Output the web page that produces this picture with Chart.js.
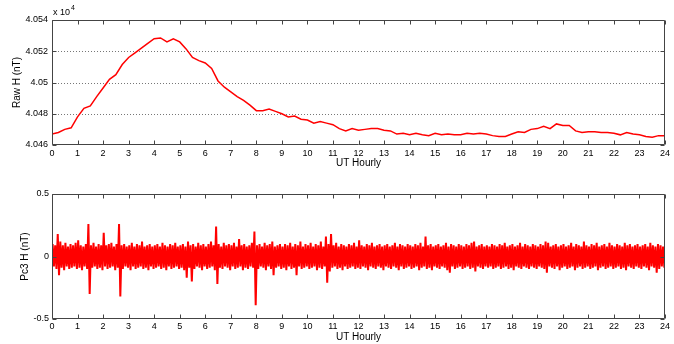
<!DOCTYPE html>
<html>
<head>
<meta charset="utf-8">
<script src="https://cdn.jsdelivr.net/npm/chart.js@4"></script>
<style>
  html, body { margin: 0; padding: 0; background: #fff; }
  #wrap { position: relative; width: 674px; height: 344px; }
  canvas { position: absolute; left: 0; }
  #rawCanvas { top: 0; }
  #pc3Canvas { top: 172px; }
</style>
</head>
<body>
<div id="wrap">
  <canvas id="rawCanvas" width="674" height="172" style="width:674px;height:172px"></canvas>
  <canvas id="pc3Canvas" width="674" height="172" style="width:674px;height:172px"></canvas>
</div>
<script>
// Raw H-component, sampled every quarter hour (nT)
const rawStepHours = 0.25;
const rawH = [
  40467, 40468, 40470, 40471,
  40478, 40483.5, 40485, 40491,
  40496.5, 40502, 40505, 40511.5,
  40516, 40519, 40522, 40525,
  40528, 40528.5, 40526, 40528,
  40526, 40521.5, 40516, 40514,
  40512.5, 40509, 40501, 40497,
  40494, 40491, 40488.5, 40485.5,
  40482, 40482, 40483, 40481.5,
  40480, 40478, 40478.5, 40476.5,
  40476, 40474, 40475, 40474,
  40473, 40470.5, 40469, 40470.5,
  40469.5, 40470, 40470.5, 40470.5,
  40469.5, 40469, 40467, 40467.5,
  40466.5, 40467.5, 40466.5, 40466,
  40467.5, 40466.5, 40467, 40466.5,
  40466.5, 40467.5, 40467, 40467.5,
  40467, 40466, 40465.5, 40465.5,
  40467, 40468.5, 40468, 40470,
  40470.5, 40472, 40470.5, 40473.5,
  40472.5, 40472.5, 40469, 40468,
  40468.5, 40468.5, 40468, 40468,
  40467.5, 40466.5, 40468, 40467,
  40466.5, 40465.5, 40465, 40466,
  40466
];

// Pc3-filtered H: per 6-minute bin, the highest and lowest excursion (nT)
const pc3BinHours = 0.1;
const pc3Max = [
  0.10, 0.09, 0.18, 0.12, 0.09, 0.11, 0.08, 0.10, 0.09, 0.11,
  0.13, 0.09, 0.08, 0.10, 0.26, 0.09, 0.11, 0.08, 0.10, 0.09,
  0.19, 0.09, 0.10, 0.11, 0.08, 0.10, 0.26, 0.09, 0.10, 0.08,
  0.09, 0.11, 0.08, 0.10, 0.09, 0.12, 0.08, 0.09, 0.10, 0.08,
  0.09, 0.10, 0.08, 0.11, 0.09, 0.08, 0.10, 0.09, 0.11, 0.08,
  0.09, 0.10, 0.08, 0.12, 0.09, 0.10, 0.08, 0.11, 0.09, 0.10,
  0.08, 0.10, 0.12, 0.09, 0.24, 0.10, 0.08, 0.11, 0.09, 0.10,
  0.09, 0.11, 0.08, 0.14, 0.09, 0.10, 0.08, 0.09, 0.11, 0.20,
  0.09, 0.10, 0.08, 0.11, 0.09, 0.10, 0.12, 0.08, 0.09, 0.10,
  0.08, 0.10, 0.09, 0.11, 0.08, 0.10, 0.09, 0.12, 0.08, 0.10,
  0.09, 0.11, 0.08, 0.10, 0.09, 0.12, 0.08, 0.16, 0.10, 0.18,
  0.09, 0.11, 0.08, 0.10, 0.09, 0.08, 0.10, 0.09, 0.11, 0.08,
  0.13, 0.09, 0.08, 0.10, 0.09, 0.11, 0.08, 0.09, 0.10, 0.08,
  0.09, 0.10, 0.08, 0.09, 0.11, 0.08, 0.10, 0.09, 0.08, 0.10,
  0.09, 0.08, 0.10, 0.09, 0.11, 0.08, 0.16, 0.09, 0.10, 0.08,
  0.09, 0.10, 0.08, 0.09, 0.11, 0.08, 0.10, 0.09, 0.08, 0.10,
  0.09, 0.08, 0.10, 0.09, 0.11, 0.12, 0.08, 0.09, 0.10, 0.08,
  0.09, 0.08, 0.10, 0.09, 0.08, 0.10, 0.09, 0.11, 0.08, 0.09,
  0.10, 0.08, 0.09, 0.11, 0.08, 0.10, 0.09, 0.08, 0.10, 0.09,
  0.08, 0.10, 0.09, 0.12, 0.11, 0.08, 0.09, 0.10, 0.08, 0.09,
  0.10, 0.08, 0.09, 0.11, 0.08, 0.10, 0.09, 0.08, 0.12, 0.09,
  0.08, 0.10, 0.09, 0.11, 0.08, 0.09, 0.10, 0.08, 0.11, 0.09,
  0.08, 0.10, 0.09, 0.08, 0.11, 0.09, 0.10, 0.08, 0.09, 0.10,
  0.08, 0.09, 0.10, 0.08, 0.11, 0.09, 0.08, 0.10, 0.09, 0.08
];
const pc3Min = [
  -0.08, -0.10, -0.15, -0.09, -0.11, -0.08, -0.10, -0.09, -0.08, -0.10,
  -0.09, -0.11, -0.08, -0.10, -0.30, -0.09, -0.08, -0.10, -0.09, -0.11,
  -0.08, -0.10, -0.09, -0.08, -0.11, -0.09, -0.32, -0.10, -0.08, -0.09,
  -0.11, -0.08, -0.10, -0.09, -0.08, -0.10, -0.09, -0.11, -0.08, -0.10,
  -0.09, -0.08, -0.10, -0.09, -0.11, -0.08, -0.10, -0.09, -0.08, -0.10,
  -0.09, -0.11, -0.17, -0.09, -0.20, -0.10, -0.08, -0.09, -0.11, -0.08,
  -0.10, -0.09, -0.08, -0.11, -0.22, -0.09, -0.10, -0.08, -0.09, -0.11,
  -0.08, -0.10, -0.09, -0.08, -0.11, -0.09, -0.10, -0.08, -0.09, -0.39,
  -0.10, -0.08, -0.09, -0.11, -0.08, -0.10, -0.15, -0.09, -0.08, -0.10,
  -0.09, -0.11, -0.08, -0.10, -0.09, -0.15, -0.08, -0.10, -0.09, -0.08,
  -0.10, -0.09, -0.08, -0.11, -0.09, -0.10, -0.08, -0.21, -0.12, -0.09,
  -0.08, -0.10, -0.09, -0.11, -0.08, -0.10, -0.09, -0.08, -0.10, -0.09,
  -0.10, -0.08, -0.09, -0.11, -0.08, -0.09, -0.10, -0.08, -0.09, -0.11,
  -0.08, -0.09, -0.10, -0.08, -0.09, -0.11, -0.08, -0.10, -0.09, -0.08,
  -0.10, -0.09, -0.08, -0.11, -0.09, -0.08, -0.10, -0.09, -0.11, -0.08,
  -0.09, -0.10, -0.08, -0.09, -0.11, -0.13, -0.08, -0.10, -0.09, -0.08,
  -0.10, -0.09, -0.08, -0.10, -0.09, -0.12, -0.08, -0.09, -0.10, -0.08,
  -0.09, -0.08, -0.10, -0.09, -0.08, -0.10, -0.09, -0.08, -0.10, -0.09,
  -0.11, -0.08, -0.09, -0.10, -0.08, -0.09, -0.10, -0.08, -0.09, -0.10,
  -0.08, -0.09, -0.10, -0.13, -0.08, -0.09, -0.10, -0.08, -0.11, -0.09,
  -0.08, -0.10, -0.09, -0.08, -0.11, -0.09, -0.08, -0.10, -0.09, -0.08,
  -0.10, -0.09, -0.08, -0.11, -0.09, -0.08, -0.10, -0.09, -0.08, -0.10,
  -0.09, -0.08, -0.10, -0.09, -0.11, -0.08, -0.09, -0.10, -0.08, -0.09,
  -0.10, -0.08, -0.09, -0.11, -0.08, -0.09, -0.13, -0.10, -0.08, -0.09
];

// Axis ranges and tick spacing
const hourRange = [0, 24];
const hourStep = 1;
const rawRange = [40460, 40540];
const rawStep = 20;
const pc3Range = [-0.5, 0.5];
const pc3Step = 0.5;

const rawPoints = rawH.map((v, i) => ({ x: i * rawStepHours, y: v }));
const pc3Points = [];
pc3Max.forEach((hi, i) => {
  pc3Points.push({ x: (i + 0.25) * pc3BinHours, y: hi });
  pc3Points.push({ x: (i + 0.75) * pc3BinHours, y: pc3Min[i] });
});

Chart.defaults.font.family = '"Liberation Sans", Arial, Helvetica, sans-serif';
Chart.defaults.font.size = 10;
Chart.defaults.color = '#000';

const tickFont = { size: 9 };

// Boxed axes with inward tick marks and optional dotted grid
const boxFrame = {
  id: 'boxFrame',
  beforeDatasetsDraw(chart, args, opts) {
    if (!opts.dottedGrid) return;
    const { ctx, chartArea: a, scales: { y } } = chart;
    ctx.save();
    ctx.strokeStyle = '#777';
    ctx.lineWidth = 1;
    ctx.setLineDash([1, 2]);
    ctx.beginPath();
    y.ticks.forEach(t => {
      if (t.value <= y.min || t.value >= y.max) return;
      const py = Math.round(y.getPixelForValue(t.value)) + 0.5;
      ctx.moveTo(a.left, py);
      ctx.lineTo(a.right, py);
    });
    ctx.stroke();
    ctx.restore();
  },
  afterDatasetsDraw(chart, args, opts) {
    const { ctx, chartArea: a, scales: { x, y } } = chart;
    const L = Math.round(a.left) + 0.5, R = Math.round(a.right) - 0.5;
    const T = Math.round(a.top) + 0.5, B = Math.round(a.bottom) - 0.5;
    const len = 4;
    ctx.save();
    ctx.strokeStyle = '#444';
    ctx.lineWidth = 1;
    ctx.beginPath();
    x.ticks.forEach(t => {
      const px = Math.round(x.getPixelForValue(t.value)) + 0.5;
      ctx.moveTo(px, B); ctx.lineTo(px, B - len);
      ctx.moveTo(px, T); ctx.lineTo(px, T + len);
    });
    y.ticks.forEach(t => {
      const py = Math.round(y.getPixelForValue(t.value)) + 0.5;
      ctx.moveTo(L, py); ctx.lineTo(L + len, py);
      ctx.moveTo(R, py); ctx.lineTo(R - len, py);
    });
    ctx.rect(L, T, R - L, B - T);
    ctx.stroke();
    if (opts.exponent) {
      ctx.fillStyle = '#000';
      ctx.textBaseline = 'alphabetic';
      ctx.textAlign = 'left';
      ctx.font = '9px "Liberation Sans", Arial, sans-serif';
      const base = 'x 10';
      ctx.fillText(base, a.left + 1, a.top - 5);
      const w = ctx.measureText(base).width;
      ctx.font = '7px "Liberation Sans", Arial, sans-serif';
      ctx.fillText(opts.exponent, a.left + 1 + w + 1, a.top - 10);
    }
    ctx.restore();
  }
};

function hourAxis(titleBottomPad, height, labelPad) {
  return {
    type: 'linear',
    min: hourRange[0], max: hourRange[1],
    afterFit(s) { s.height = height; },
    ticks: { stepSize: hourStep, autoSkip: false, maxRotation: 0, padding: labelPad, font: tickFont },
    grid: { display: false, drawTicks: false },
    border: { display: false },
    title: { display: true, text: 'UT Hourly', padding: { top: 0, bottom: titleBottomPad } }
  };
}

new Chart(document.getElementById('rawCanvas'), {
  type: 'line',
  data: { datasets: [{
    data: rawPoints,
    borderColor: '#ff0000', borderWidth: 1.5,
    pointRadius: 0, tension: 0, fill: false
  }] },
  options: {
    responsive: false, animation: false, parsing: false,
    layout: { padding: { left: 0, right: 9, top: 20, bottom: 0 } },
    plugins: { legend: { display: false }, tooltip: { enabled: false },
      boxFrame: { dottedGrid: true, exponent: '4' } },
    scales: {
      x: hourAxis(3, 27, 3),
      y: {
        min: rawRange[0], max: rawRange[1],
        afterFit(s) { s.width = 52; },
        ticks: { stepSize: rawStep, padding: 4, font: tickFont,
          callback: v => (v / 1e4).toFixed(3).replace(/0+$/, '').replace(/\.$/, '') },
        grid: { display: false, drawTicks: false },
        border: { display: false },
        title: { display: true, text: 'Raw H (nT)', padding: { top: 11, bottom: 0 } }
      }
    }
  },
  plugins: [boxFrame]
});

new Chart(document.getElementById('pc3Canvas'), {
  type: 'line',
  data: { datasets: [{
    data: pc3Points,
    borderColor: '#ff0000', borderWidth: 2,
    pointRadius: 0, tension: 0, fill: false
  }] },
  options: {
    responsive: false, animation: false, parsing: false,
    layout: { padding: { left: 0, right: 9, top: 22, bottom: 0 } },
    plugins: { legend: { display: false }, tooltip: { enabled: false },
      boxFrame: { dottedGrid: false } },
    scales: {
      x: hourAxis(1, 25, 2),
      y: {
        min: pc3Range[0], max: pc3Range[1],
        afterFit(s) { s.width = 52; },
        ticks: { stepSize: pc3Step, padding: 3, font: tickFont },
        grid: { display: false, drawTicks: false },
        border: { display: false },
        title: { display: true, text: 'Pc3 H (nT)', padding: { top: 19, bottom: 0 } }
      }
    }
  },
  plugins: [boxFrame]
});
</script>
</body>
</html>
